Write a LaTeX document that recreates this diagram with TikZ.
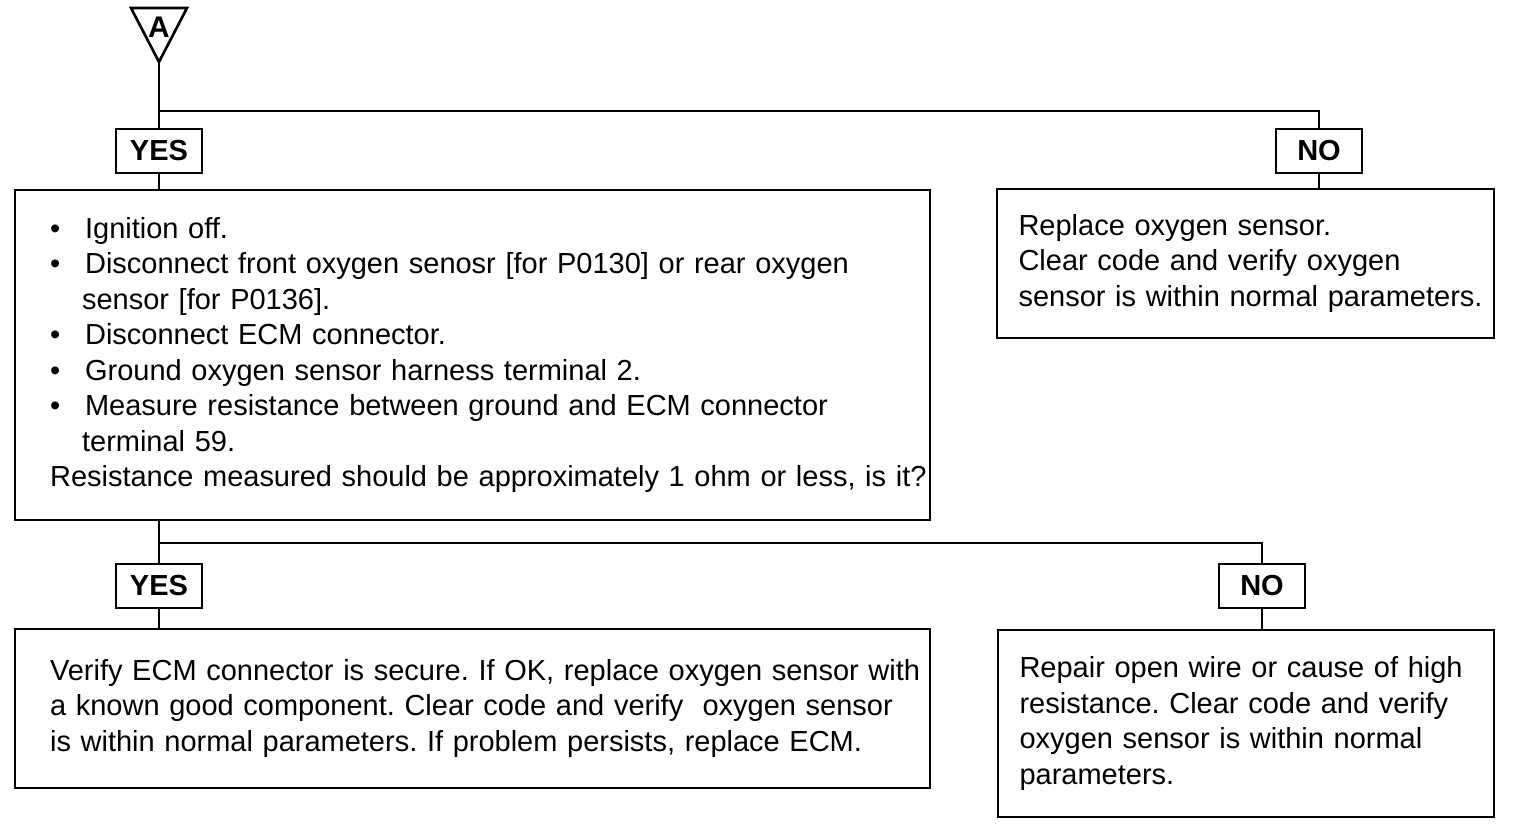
\documentclass[tikz,border=0pt]{standalone}
\usepackage{fontspec}
\setmainfont{Liberation Sans}
\usepackage{tikz}

\newcommand{\bul}{\hspace*{0.7cm}\makebox[0.7cm][l]{\textbullet}}
\newcommand{\cont}{\hspace*{1.34cm}}
\newcommand{\wide}{\hspace*{0.7cm}}
\newcommand{\narrow}{\hspace*{0.43cm}}

\begin{document}
\frenchspacing
\begin{tikzpicture}[%
      x=0.02cm, y=-0.02cm,
      line width=1.5pt,
      answer/.style={draw, minimum width=1.72cm, minimum height=0.88cm, inner sep=0pt,
        font=\fontsize{16.5}{18}\selectfont\bfseries},
      stepbox/.style={draw, align=left, inner sep=0pt,
        font=\fontsize{16.5}{20.2}\selectfont},
      ]
      \useasboundingbox (0,0) rectangle (1519,824);

      \draw [line join=miter] (131,8) -- (187,8) -- (159,62) -- cycle;
      \node (a) at (159,27) {\fontsize{17}{18}\selectfont\bfseries A};
      \coordinate (apex) at (159,62);
      \coordinate (split1) at (159,111);
      \coordinate (split2) at (159,543);

      \node [answer] (yes1) at (159,151) {YES};
      \node [answer] (no1) at (1319,151) {NO};
      \node [answer] (yes2) at (159,586) {YES};
      \node [answer] (no2) at (1262,586) {NO};

      \node [stepbox, minimum height=6.6cm, text width=18.3cm] (check) at (472.5,355) {%
        \bul Ignition off.\\
        \bul Disconnect front oxygen senosr [for P0130] or rear oxygen\\
        \cont sensor [for P0136].\\
        \bul Disconnect ECM connector.\\
        \bul Ground oxygen sensor harness terminal 2.\\
        \bul Measure resistance between ground and ECM connector\\
        \cont terminal 59.\\
        \wide Resistance measured should be approximately 1 ohm or less, is it?};

      \node [stepbox, minimum height=2.98cm, text width=9.94cm] (replace) at (1245.5,263.5) {%
        \narrow Replace oxygen sensor.\\
        \narrow Clear code and verify oxygen\\
        \narrow sensor is within normal parameters.};

      \node [stepbox, minimum height=3.18cm, text width=18.3cm] (verify) at (472.5,708.5) {%
        \wide Verify ECM connector is secure. If OK, replace oxygen sensor with\\
        \wide a known good component. Clear code and verify\ \ oxygen sensor\\
        \wide is within normal parameters. If problem persists, replace ECM.};

      \node [stepbox, minimum height=3.74cm, text width=9.92cm] (repair) at (1246,723.5) {%
        \narrow Repair open wire or cause of high\\
        \narrow resistance. Clear code and verify\\
        \narrow oxygen sensor is within normal\\
        \narrow parameters.};

      \draw (apex) -- (yes1.north);
      \draw (split1) -| (no1.north);
      \draw (yes1.south) -- (yes1.south |- check.north);
      \draw (no1.south) -- (no1.south |- replace.north);
      \draw (yes2.north |- check.south) -- (yes2.north);
      \draw (split2) -| (no2.north);
      \draw (yes2.south) -- (yes2.south |- verify.north);
      \draw (no2.south) -- (no2.south |- repair.north);
\end{tikzpicture}
\end{document}
